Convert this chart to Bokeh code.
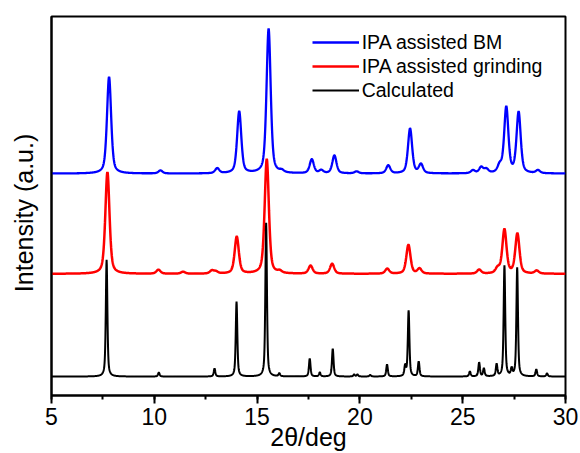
import numpy as np
from bokeh.plotting import figure
from bokeh.models import Range1d, SingleIntervalTicker, FixedTicker, Legend, LegendItem
from bokeh.embed import file_html
from bokeh.resources import INLINE

# ---- data: peak positions (2θ, deg) and heights above baseline (a.u.)
series_names = ["IPA assisted BM", "IPA assisted grinding", "Calculated"]
x_title = "2θ/deg"
y_title = "Intensity (a.u.)"

bm_pos = [7.80, 10.30, 13.06, 14.13, 15.56, 16.20, 17.66, 18.12, 18.76, 19.84, 21.38,
          22.44, 22.97, 25.50, 25.90, 26.15, 26.80, 27.12, 27.72, 28.66]
bm_height = [97, 3, 5, 62, 145, 2, 14, 3, 18, 2, 8,
             45, 9, 3, 6, 4, 7, 66, 61, 3]
bm_baseline = 222.5

grind_pos = [7.72, 10.20, 11.40, 12.80, 13.00, 14.01, 15.47, 16.10, 17.60, 18.65, 21.33,
             22.36, 22.90, 25.80, 26.70, 27.03, 27.66, 28.60]
grind_height = [102, 4, 2, 3, 2, 37, 115, 2, 8, 10, 5,
                29, 5, 4, 5, 44, 40, 3]
grind_baseline = 122

calc_pos = [7.68, 10.22, 12.93, 14.00, 15.44, 16.08, 17.56, 18.05, 18.68, 19.72, 19.88,
            20.50, 21.32, 22.20, 22.37, 22.86, 25.35, 25.80, 26.03, 26.65, 27.03, 27.38,
            27.65, 28.58, 29.10]
calc_height = [117, 4, 8, 75, 154, 3, 18, 4, 28, 2, 2,
               1.5, 12, 10, 66, 15, 5, 14, 8, 12, 111, 7,
               109, 7, 3]
calc_baseline = 19

two_theta = np.linspace(5, 30, 2501)


def pattern(pos, hts, base, fwhm, eta):
    y = np.full_like(two_theta, float(base))
    for c, h in zip(pos, hts):
        d = (two_theta - c) / (fwhm / 2.0)
        y += h * (eta / (1.0 + d * d) + (1.0 - eta) * np.exp(-np.log(2.0) * d * d))
    return y


y_bm = pattern(bm_pos, bm_height, bm_baseline, 0.24, 0.5)
y_grind = pattern(grind_pos, grind_height, grind_baseline, 0.24, 0.5)
y_calc = pattern(calc_pos, calc_height, calc_baseline, 0.09, 0.6)

FONT = "Liberation Sans"

p = figure(width=580, height=453, x_range=Range1d(5, 30), y_range=Range1d(0, 380),
           output_backend="svg", toolbar_location=None,
           min_border_left=51, min_border_right=15, min_border_top=16, min_border_bottom=57,
           x_axis_label=x_title, y_axis_label=y_title + "\u00a0\u00a0")
p.grid.visible = False
p.outline_line_color = "black"
p.outline_line_width = 2
p.outline_line_alpha = 1.0
p.background_fill_color = "white"
p.border_fill_color = "white"

xa = p.xaxis[0]
xa.ticker = SingleIntervalTicker(interval=5, num_minor_ticks=2)
xa.major_tick_out = 8
xa.major_tick_in = 0
xa.minor_tick_out = 4
xa.minor_tick_in = 0
xa.axis_line_width = 2
xa.major_tick_line_width = 2
xa.minor_tick_line_width = 2
xa.major_label_text_font = FONT
xa.major_label_text_font_size = "23px"
xa.major_label_text_color = "black"
xa.major_label_standoff = 4
xa.axis_label_text_font = FONT
xa.axis_label_text_font_size = "25px"
xa.axis_label_text_font_style = "normal"
xa.axis_label_text_color = "black"
xa.axis_label_standoff = -5

ya = p.yaxis[0]
ya.ticker = FixedTicker(ticks=[])
ya.major_tick_out = 0
ya.major_tick_in = 0
ya.minor_tick_out = 0
ya.minor_tick_in = 0
ya.axis_line_width = 2
ya.major_label_standoff = 0
ya.major_label_text_font_size = "0px"
ya.axis_label_text_font = FONT
ya.axis_label_text_font_size = "25px"
ya.axis_label_text_font_style = "normal"
ya.axis_label_text_color = "black"
ya.axis_label_standoff = 14

r_bm = p.line(two_theta, y_bm, line_color="#0000FF", line_width=2.3)
r_grind = p.line(two_theta, y_grind, line_color="#FF0000", line_width=2.5)
r_calc = p.line(two_theta, y_calc, line_color="black", line_width=2.0)

legend = Legend(items=[LegendItem(label=series_names[0], renderers=[r_bm]),
                       LegendItem(label=series_names[1], renderers=[r_grind]),
                       LegendItem(label=series_names[2], renderers=[r_calc])],
                location=(260.7, 292.7))
legend.padding = 0
legend.margin = 0
legend.spacing = 0
legend.glyph_width = 47
legend.glyph_height = 24
legend.label_height = 24
legend.label_standoff = 3
legend.label_text_font = FONT
legend.label_text_font_size = "19.5px"
legend.label_text_color = "black"
legend.label_text_baseline = "middle"
legend.background_fill_alpha = 0
legend.border_line_alpha = 0
p.add_layout(legend)

open("out.html", "w").write(file_html(p, INLINE))
